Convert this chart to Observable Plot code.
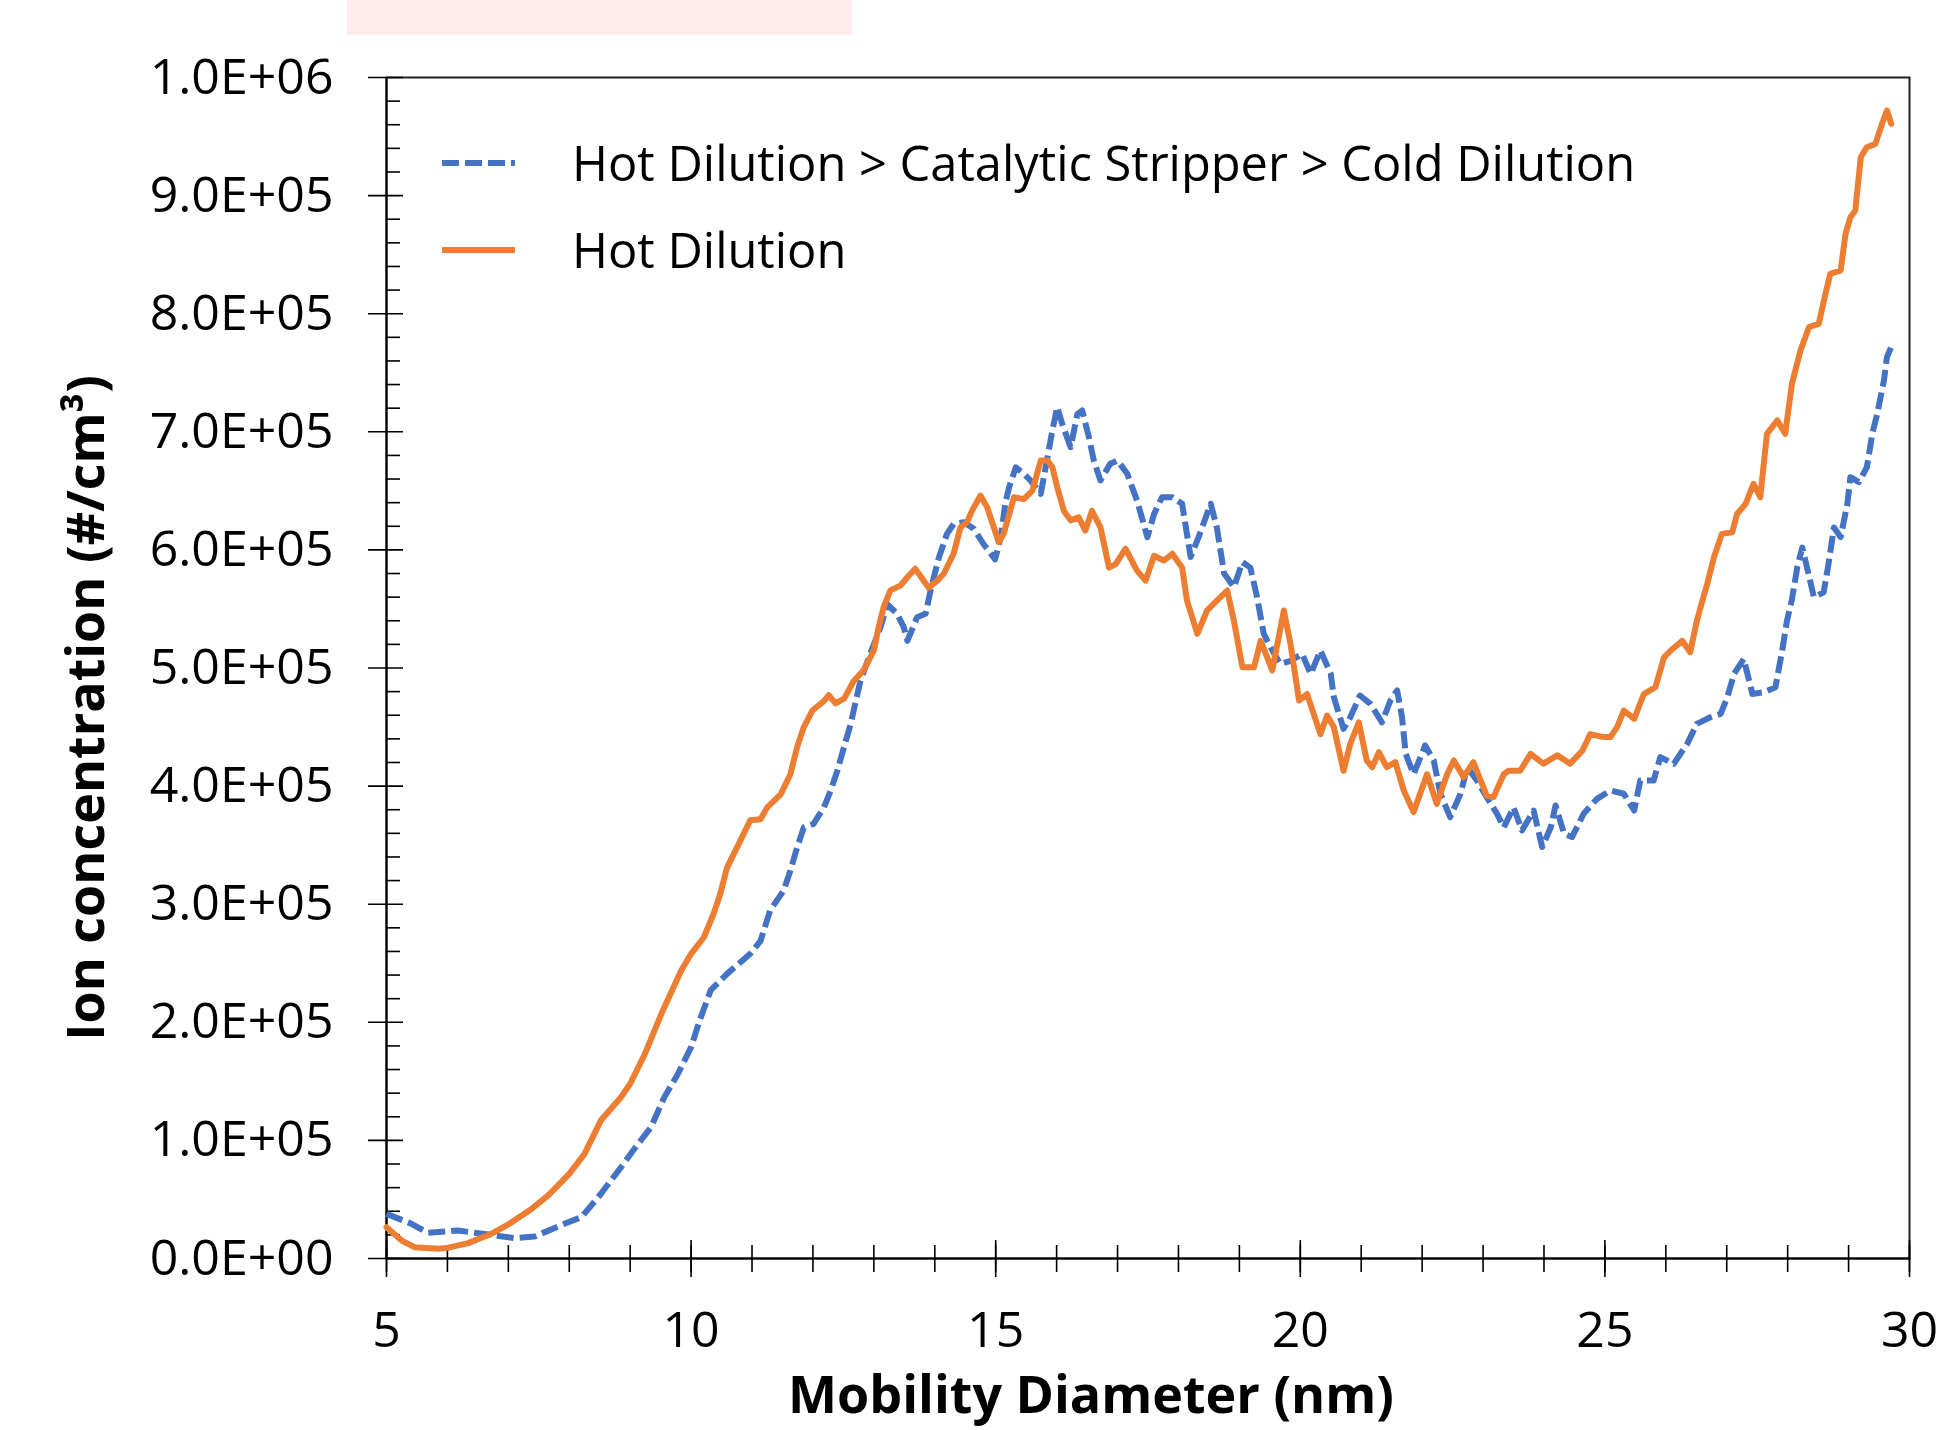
<!DOCTYPE html>
<html><head><meta charset="utf-8">
<script src="https://cdn.jsdelivr.net/npm/d3@7"></script>
<script src="https://cdn.jsdelivr.net/npm/@observablehq/plot@0.6"></script>
<style>
html,body{margin:0;padding:0;background:#fff;}
#wrap{position:relative;width:1953px;height:1430px;overflow:hidden;font-family:"Open Sans",sans-serif;}
#pink{position:absolute;left:347px;top:0;width:505px;height:35px;background:#fdeded;}
#chart{position:absolute;left:0;top:0;}
#legend{position:absolute;left:0;top:0;}
</style></head><body>
<div id="wrap"><div id="pink"></div><div id="chart"></div><svg id="legend" width="1700" height="300"></svg></div>
<script>
// ---- data ----
const seriesNames = ["Hot Dilution > Catalytic Stripper > Cold Dilution", "Hot Dilution"];
const xTitle = "Mobility Diameter (nm)";
const yTitle = "Ion concentration (#/cm³)";
const xMajor = [5, 10, 15, 20, 25, 30];
const xTickLabels = ["5", "10", "15", "20", "25", "30"];
const xMinor = [5,6,7,8,9,10,11,12,13,14,15,16,17,18,19,20,21,22,23,24,25,26,27,28,29,30];
const yMajor = [0,100000,200000,300000,400000,500000,600000,700000,800000,900000,1000000];
const yTickLabels = ["0.0E+00","1.0E+05","2.0E+05","3.0E+05","4.0E+05","5.0E+05","6.0E+05","7.0E+05","8.0E+05","9.0E+05","1.0E+06"];
const yMinor = [20000,40000,60000,80000,120000,140000,160000,180000,220000,240000,260000,280000,320000,340000,360000,380000,420000,440000,460000,480000,520000,540000,560000,580000,620000,640000,660000,680000,720000,740000,760000,780000,820000,840000,860000,880000,920000,940000,960000,980000];

// Hot Dilution (orange)
const hotX = [5.0,5.25,5.46,5.85,6.0,6.34,6.72,7.0,7.38,7.65,8.0,8.25,8.52,8.85,9.0,9.24,9.51,9.84,10.0,10.21,10.37,10.48,10.59,10.81,10.97,11.14,11.25,11.47,11.63,11.74,11.85,11.99,12.18,12.26,12.37,12.51,12.67,12.83,13.0,13.08,13.16,13.27,13.44,13.55,13.68,13.9,14.04,14.15,14.31,14.42,14.53,14.61,14.75,14.86,14.97,15.05,15.13,15.3,15.46,15.6,15.74,15.85,15.93,16.01,16.12,16.23,16.36,16.47,16.58,16.72,16.86,16.97,17.13,17.32,17.46,17.6,17.76,17.9,18.06,18.14,18.31,18.47,18.63,18.8,18.91,19.05,19.24,19.35,19.54,19.73,19.84,19.98,20.11,20.22,20.33,20.44,20.55,20.71,20.82,20.96,21.09,21.18,21.29,21.42,21.56,21.7,21.86,22.08,22.24,22.41,22.52,22.68,22.84,23.06,23.17,23.34,23.42,23.61,23.78,23.99,24.22,24.43,24.63,24.76,24.98,25.09,25.2,25.31,25.48,25.64,25.83,25.97,26.08,26.27,26.4,26.51,26.57,26.68,26.79,26.92,27.09,27.17,27.31,27.44,27.55,27.66,27.83,27.96,28.07,28.21,28.35,28.51,28.62,28.7,28.87,28.95,29.03,29.11,29.2,29.3,29.44,29.55,29.63,29.7];
const hotY = [26500,15200,9600,8200,9000,13000,20900,28800,42000,53300,71700,88600,117000,136600,148000,173000,207000,244000,258000,272000,292000,309000,331000,354000,371000,372000,382000,393000,410000,433000,450000,464000,472000,477000,470000,474000,489000,498000,515000,535000,551500,565600,570000,577000,584000,568000,574000,580000,597000,619000,623500,633000,646000,636000,619000,606500,613600,644600,643000,650000,675700,675700,670000,653000,633000,625000,627700,616400,633000,619000,585000,588000,601000,582500,574000,595000,591000,596700,585000,557000,529000,548700,557000,565600,540000,500700,500700,523000,498000,548700,520000,472500,478000,461000,444000,459800,450000,413000,435800,454000,421700,416000,428700,416000,420300,396000,378000,410000,385000,410000,421700,407600,420300,392000,390600,410000,413000,413000,427300,419000,426000,419000,430000,444000,441500,441500,450000,464000,457000,478000,483800,509000,514800,523000,513400,540000,551500,571300,593800,613600,615000,630500,639000,656000,644600,698300,709600,698300,740600,768800,788600,791400,816800,833800,836600,867600,881700,887400,932500,941000,943800,960800,972000,960800];

// Hot Dilution > Catalytic Stripper > Cold Dilution (blue dashed)
const hdcsX = [5.0,5.41,5.68,6.17,6.67,7.1,7.43,7.92,8.2,8.52,8.85,9.13,9.34,9.56,9.78,10.0,10.14,10.32,10.59,10.97,11.14,11.3,11.52,11.63,11.74,11.85,12.01,12.18,12.29,12.4,12.51,12.62,12.73,12.78,12.94,13.11,13.22,13.38,13.49,13.55,13.71,13.85,13.93,14.07,14.2,14.31,14.48,14.64,14.8,14.99,15.08,15.16,15.22,15.33,15.46,15.57,15.74,15.85,15.93,16.01,16.09,16.23,16.34,16.42,16.53,16.61,16.72,16.88,17.0,17.16,17.32,17.49,17.6,17.73,17.9,18.06,18.2,18.33,18.53,18.63,18.75,18.91,19.05,19.18,19.29,19.4,19.51,19.67,19.84,20.03,20.17,20.33,20.5,20.55,20.71,20.82,20.98,21.15,21.34,21.48,21.59,21.67,21.73,21.86,22.05,22.19,22.3,22.46,22.63,22.74,22.9,23.06,23.23,23.34,23.5,23.64,23.83,23.97,24.11,24.19,24.33,24.46,24.65,24.87,25.09,25.31,25.48,25.58,25.8,25.91,26.13,26.35,26.51,26.73,26.9,27.01,27.12,27.28,27.42,27.61,27.8,27.91,27.99,28.07,28.16,28.24,28.35,28.43,28.59,28.67,28.76,28.87,28.98,29.03,29.17,29.3,29.39,29.47,29.58,29.63,29.7];
const hdcsY = [37800,29400,21700,23700,20300,17200,18600,29400,35000,54800,77300,97100,111000,136600,156000,179000,201500,227000,241000,258000,269000,295000,311600,328500,348000,365000,368000,382000,396000,413000,433000,452700,478000,489000,512000,534600,554000,546000,534600,523000,543000,546000,565600,594000,613600,622000,623500,618000,605000,592000,610000,640000,653000,670000,664400,658800,647500,678500,701000,721000,707000,687000,715000,718000,695400,675700,658800,673000,675700,664400,641800,610800,630500,644600,644600,639000,594000,610800,639000,619000,580000,568500,589600,585000,560000,529000,517600,503500,506000,512000,495000,514800,495000,475300,448500,458300,476700,469700,454000,472500,481000,458300,427300,410000,434400,421700,393500,373700,393500,416000,404700,390600,376500,365000,382000,362400,379300,348400,365000,383600,359700,356800,376500,389200,396300,393500,379300,404700,404700,424500,418800,435800,452700,458300,461200,475300,495000,507700,478000,479500,483800,514800,540200,558000,586000,602000,578000,560000,564000,588000,619000,610800,639000,661600,657400,670000,698300,715200,743400,763200,771700];

const colors = ["#4472C4", "#ED7D31"];
const dash = "17,6";

const hotRows = hotX.map((x, i) => ({x, y: hotY[i]}));
const hdcsRows = hdcsX.map((x, i) => ({x, y: hdcsY[i]}));
const yLabelMap = new Map(yMajor.map((v, i) => [v, yTickLabels[i]]));
const xLabelMap = new Map(xMajor.map((v, i) => [v, xTickLabels[i]]));

const chart = Plot.plot({
  width: 1953, height: 1430,
  marginLeft: 386, marginRight: 44, marginTop: 77, marginBottom: 172,
  style: {fontFamily: '"Open Sans", sans-serif', background: "transparent", color: "#000", overflow: "visible"},
  x: {type: "linear", domain: [5, 30]},
  y: {type: "linear", domain: [0, 1000000]},
  marks: [
    Plot.frame({stroke: "#222", strokeWidth: 2}),
    Plot.axisY({ticks: yMinor, tickSize: 14, dx: 14, fill: "none", label: null, strokeWidth: 1.6, stroke: "#000"}),
    Plot.axisY({ticks: yMajor, tickSize: 35, dx: 17, fill: "none", label: null, strokeWidth: 1.6, stroke: "#000"}),
    Plot.axisY({ticks: yMajor, tickSize: 0, tickPadding: 53, tickFormat: d => yLabelMap.get(d), fontSize: 50, label: null, fill: "#000"}),
    Plot.axisX({ticks: xMinor, tickSize: 27, dy: -13, fill: "none", label: null, strokeWidth: 1.6, stroke: "#000"}),
    Plot.axisX({ticks: xMajor, tickSize: 37, dy: -18, fill: "none", label: null, strokeWidth: 1.6, stroke: "#000"}),
    Plot.axisX({ticks: xMajor, tickSize: 0, tickPadding: 53, tickFormat: d => xLabelMap.get(d), fontSize: 50, label: null, fill: "#000"}),
    Plot.ruleX([5], {stroke: "#000", strokeWidth: 2}),
    Plot.ruleY([0], {stroke: "#000", strokeWidth: 2}),
    Plot.line(hdcsRows, {x: "x", y: "y", stroke: colors[0], strokeWidth: 6, strokeDasharray: dash, strokeLinecap: "butt", strokeLinejoin: "round"}),
    Plot.line(hotRows, {x: "x", y: "y", stroke: colors[1], strokeWidth: 6, strokeLinejoin: "round"}),
    Plot.text([yTitle], {frameAnchor: "left", textAnchor: "middle", lineAnchor: "middle", rotate: -90, dx: -299, dy: 40, fontSize: 52, fontWeight: "bold", fill: "#000"}),
    Plot.text([xTitle], {frameAnchor: "bottom", textAnchor: "middle", lineAnchor: "middle", dx: -57, dy: 138, fontSize: 52, fontWeight: "bold", fill: "#000"})
  ]
});
document.getElementById("chart").appendChild(chart);

// legend (inside plot area, upper left)
const lg = d3.select("#legend");
const rows = [
  {name: seriesNames[0], color: colors[0], dash: dash, y: 163},
  {name: seriesNames[1], color: colors[1], dash: null, y: 250}
];
rows.forEach(r => {
  lg.append("line").attr("x1", 442).attr("x2", 515).attr("y1", r.y).attr("y2", r.y)
    .attr("stroke", r.color).attr("stroke-width", 6).attr("stroke-dasharray", r.dash);
  lg.append("text").attr("x", 572).attr("y", r.y + 18).attr("font-size", 48.8)
    .attr("font-family", '"Open Sans", sans-serif').attr("fill", "#000").text(r.name);
});
</script>
</body></html>
